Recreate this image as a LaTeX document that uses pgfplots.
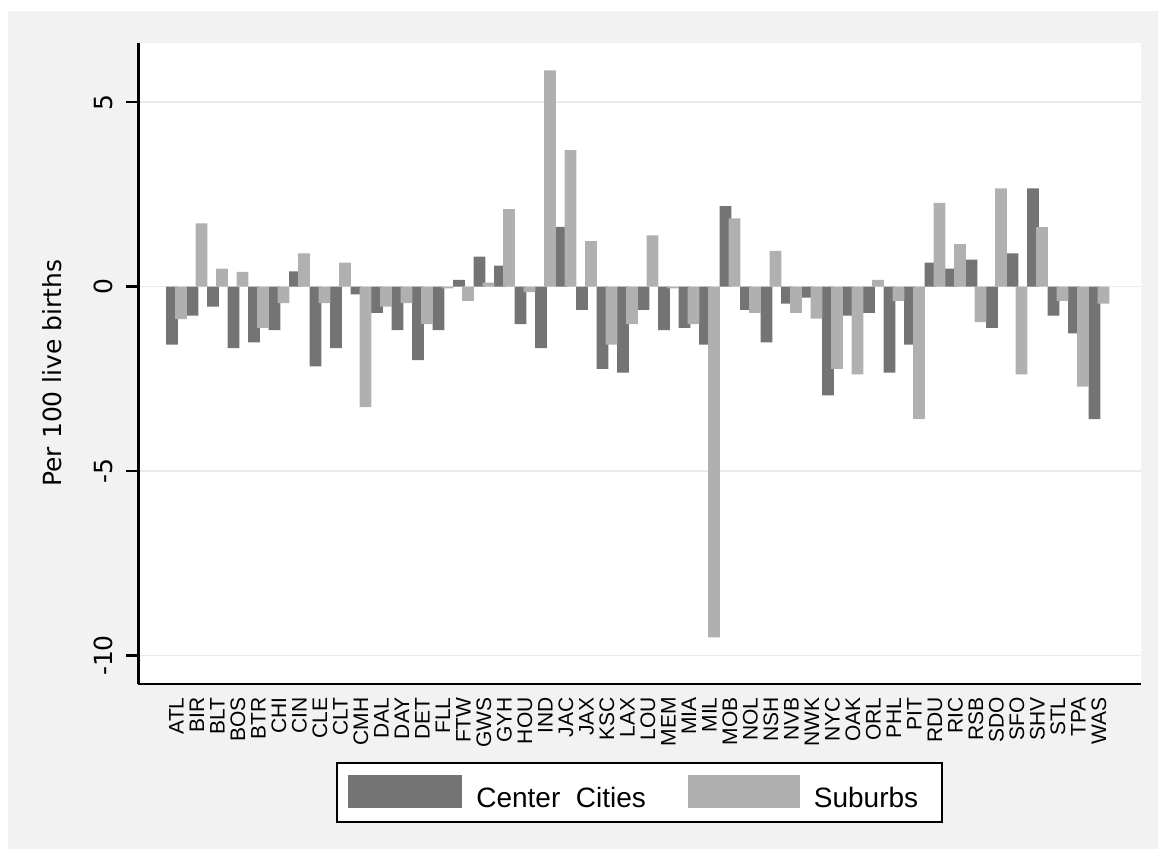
\documentclass[border=0pt]{standalone}
\usepackage{pgfplots}
\pgfplotsset{compat=1.18}
\usepackage{fontspec}
\setmainfont{Liberation Sans}
\newfontfamily\dejavu{DejaVu Sans}
\definecolor{darkbar}{RGB}{116,116,116}
\definecolor{lightbar}{RGB}{176,176,176}
\definecolor{bgc}{RGB}{242,242,242}
\definecolor{gridc}{RGB}{234,234,234}

\pgfplotstableread{
x center suburb
0 -1.57 -0.88
1 -0.79 1.71
2 -0.54 0.49
3 -1.67 0.40
4 -1.51 -1.12
5 -1.18 -0.45
6 0.41 0.90
7 -2.16 -0.45
8 -1.67 0.65
9 -0.21 -3.27
10 -0.71 -0.54
11 -1.18 -0.45
12 -1.99 -1.02
13 -1.18 -0.05
14 0.18 -0.39
15 0.81 0.11
16 0.57 2.10
17 -1.02 -0.15
18 -1.67 5.86
19 1.62 3.70
20 -0.63 1.23
21 -2.23 -1.57
22 -2.33 -1.02
23 -0.63 1.39
24 -1.18 -0.05
25 -1.12 -1.02
26 -1.57 -9.51
27 2.18 1.85
28 -0.63 -0.71
29 -1.51 0.97
30 -0.46 -0.71
31 -0.30 -0.87
32 -2.95 -2.23
33 -0.79 -2.38
34 -0.71 0.18
35 -2.33 -0.39
36 -1.57 -3.59
37 0.65 2.27
38 0.49 1.15
39 0.73 -0.96
40 -1.12 2.66
41 0.90 -2.38
42 2.66 1.61
43 -0.79 -0.39
44 -1.27 -2.71
45 -3.59 -0.46
}\datatable

\begin{document}
\begin{tikzpicture}
\path[use as bounding box] (-69.25pt,-82.5pt) rectangle (509.75pt,342pt);
\fill[white] (-69.25pt,-82.5pt) rectangle (509.75pt,342pt);
\fill[bgc] (-65.25pt,-82.5pt) rectangle (509.75pt,336.5pt);
\begin{axis}[
  at={(0,0)}, anchor=south west, scale only axis,
  width=501.25pt, height=320.65pt,
  xmin=-1.85, xmax=47.05, ymin=-10.77, ymax=6.61,
  axis background/.style={fill=white},
  axis x line*=bottom, axis y line*=left,
  axis line style={line width=1.3pt, black, -},
  tick align=inside,
  major tick length=6pt,
  xtick={0,...,45},
  xticklabels={ATL,BIR,BLT,BOS,BTR,CHI,CIN,CLE,CLT,CMH,DAL,DAY,DET,FLL,FTW,GWS,GYH,HOU,IND,JAC,JAX,KSC,LAX,LOU,MEM,MIA,MIL,MOB,NOL,NSH,NVB,NWK,NYC,OAK,ORL,PHL,PIT,RDU,RIC,RSB,SDO,SFO,SHV,STL,TPA,WAS},
  xtick style={draw=none},
  xticklabel style={rotate=90, anchor=east, inner xsep=6.5pt, inner ysep=0pt, font=\fontsize{10.5}{12}\selectfont},
  ytick={-10,-5,0,5},
  yticklabels={-10,-5,0,5},
  ytick style={line width=1.3pt, black, xshift=-6pt},
  yticklabel style={rotate=90, anchor=south, inner ysep=12.75pt, inner xsep=0pt, font=\dejavu\fontsize{12.5}{14}\selectfont},
  ymajorgrids,
  major grid style={gridc, line width=0.9pt},
  every axis y label/.style={at={(axis description cs:-0.0763,0.485)}, rotate=90, anchor=south, inner sep=0pt, font=\dejavu\fontsize{12.5}{14}\selectfont},
  ylabel={Per 100 live births},
  legend columns=2,
  legend style={at={(0.5,-0.1216)}, anchor=north, draw=black, line width=1.1pt, fill=white,
    inner xsep=5.5pt, inner ysep=6pt, font=\fontsize{14}{16}\selectfont,
    /tikz/every odd column/.style={column sep=7pt},
    /tikz/every even column/.style={column sep=21pt},
    nodes={inner sep=0pt, anchor=base west}},
]
\addplot[ybar, bar width=5.85pt, bar shift=-2.25pt, fill=darkbar, draw=none,
  legend image code/.code={\fill[darkbar] (0pt,-0.5pt) rectangle (57pt,16pt);}]
  table[x=x, y=center] {\datatable};
\addlegendentry{Center\ \ Cities}
\addplot[ybar, bar width=5.85pt, bar shift=2.25pt, fill=lightbar, draw=none,
  legend image code/.code={\fill[lightbar] (0pt,-0.5pt) rectangle (56pt,16pt);}]
  table[x=x, y=suburb] {\datatable};
\addlegendentry{Suburbs\hspace*{6.5pt}}
\end{axis}
\end{tikzpicture}
\end{document}
